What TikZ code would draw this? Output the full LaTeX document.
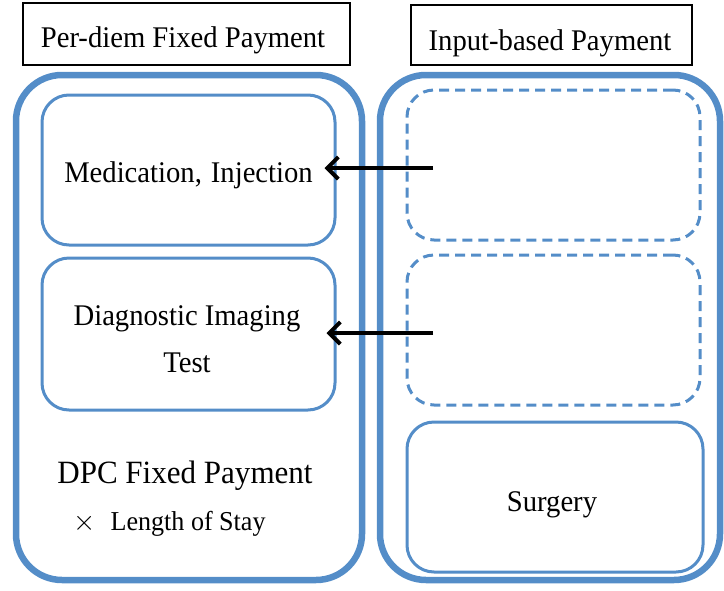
\documentclass[tikz,border=0pt]{standalone}
\usepackage{fontspec}
\setmainfont[FakeStretch=0.955]{Liberation Serif}
\usetikzlibrary{arrows.meta}
\definecolor{frameblue}{RGB}{84,141,200}

\begin{document}
\begin{tikzpicture}[x=1pt,y=-1pt,
  heading/.style={draw=black, line width=1.6pt},
  group/.style={draw=frameblue, line width=6.5pt, rounded corners=46pt},
  item/.style={draw=frameblue, line width=3pt, rounded corners=27pt},
  itemdash/.style={item, dash pattern=on 10pt off 6pt},
  txt/.style={anchor=base, inner sep=0pt, align=center,
    font=\fontsize{30}{47}\selectfont},
  flow/.style={line width=4pt, -{Straight Barb[length=11pt,width=22pt]}}]

\useasboundingbox (0,0) rectangle (724,590);

% column headings
\node[heading, minimum width=327pt, minimum height=62pt] (hl) at (186.5,34) {};
\node[heading, minimum width=281pt, minimum height=60pt] (hr) at (551.5,35) {};
\node[txt] (hlt) at (183,47) {Per-diem Fixed Payment};
\node[txt] (hrt) at (550,50) {Input-based Payment};

% outer groups
\node[group, minimum width=346pt, minimum height=505pt] (gl) at (189,327.5) {};
\node[group, minimum width=340pt, minimum height=505pt] (gr) at (550,327.5) {};

% per-diem items (base anchor of a two-line node is its last line)
\node[item, minimum width=293pt, minimum height=150pt] (med) at (188.5,170) {};
\node[item, minimum width=293pt, minimum height=152pt] (img) at (188.5,334) {};
\node[txt] (medt) at (188.5,182) {Medication,\hspace{0.3em}Injection};
\node[txt] (imgt) at (187,372) {Diagnostic Imaging\\Test};

% input-based items
\node[itemdash, minimum width=293pt, minimum height=150pt] (d1) at (553.5,165) {};
\node[itemdash, minimum width=293pt, minimum height=150pt] (d2) at (553.5,330) {};
\node[item, minimum width=296pt, minimum height=150pt] (sur) at (555,497) {};
\node[txt] (surt) at (552,511) {Surgery};

% fixed payment formula
\node[txt, font=\fontsize{32.5}{38}\selectfont] (dpc) at (185,483) {DPC Fixed Payment};
\node[txt, font=\fontsize{27.3}{32}\selectfont] (los) at (169.5,530)
  {\scalebox{1.15}{$\times$}\hspace{0.55em}Length of Stay};

% transfers from input-based to per-diem
\coordinate (s1) at (433,168);
\coordinate (s2) at (433,333);
\draw[flow] (s1) -- ([xshift=-12pt]s1 -| med.east);
\draw[flow] (s2) -- ([xshift=-10pt]s2 -| img.east);
\end{tikzpicture}
\end{document}
